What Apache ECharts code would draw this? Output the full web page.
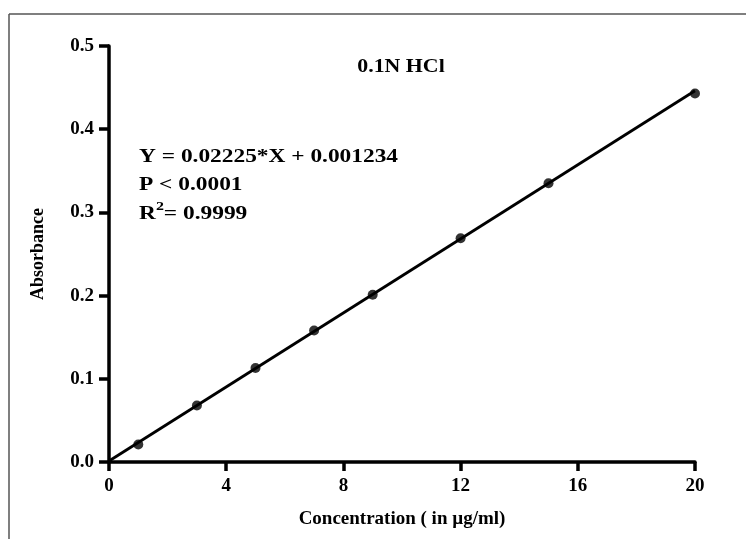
<!DOCTYPE html>
<html>
<head>
<meta charset="utf-8">
<script src="https://cdn.jsdelivr.net/npm/echarts@6/dist/echarts.min.js"></script>
<style>
  html, body { margin: 0; padding: 0; background: #fff; }
  #chart { width: 746px; height: 539px; }
</style>
</head>
<body>
<div id="chart"></div>
<script>
// measured standards
var concentration = [1, 3, 5, 7, 9, 12, 15, 20];
var absorbance = [0.021, 0.068, 0.113, 0.158, 0.201, 0.269, 0.335, 0.443];

// linear fit reported on the figure
var slope = 0.02225;
var intercept = 0.001234;
var fitRange = [0, 20];

var xTicks = [0, 4, 8, 12, 16, 20];
var yTicks = [0.0, 0.1, 0.2, 0.3, 0.4, 0.5];

var serif = '"Liberation Serif", "Times New Roman", serif';

var points = concentration.map(function (c, i) { return [c, absorbance[i]]; });
var fitLine = fitRange.map(function (x) { return [x, slope * x + intercept]; });

var myChart = echarts.init(document.getElementById('chart'));
myChart.setOption({
    backgroundColor: '#fff',
    animation: false,
    grid: { left: 109, right: 51, top: 46, bottom: 77 },
    xAxis: {
        type: 'value',
        min: xTicks[0],
        max: xTicks[xTicks.length - 1],
        interval: 4,
        name: 'Concentration ( in \u00b5g/ml)',
        nameLocation: 'middle',
        nameGap: 48,
        nameTextStyle: { fontFamily: serif, fontWeight: 'bold', fontSize: 19, color: '#000' },
        axisLine: { lineStyle: { color: '#000', width: 3.5 } },
        axisTick: { length: 9, lineStyle: { color: '#000', width: 3.5 } },
        axisLabel: { margin: 15, fontFamily: serif, fontWeight: 'bold', fontSize: 19, color: '#000' },
        splitLine: { show: false }
    },
    yAxis: {
        type: 'value',
        min: yTicks[0],
        max: yTicks[yTicks.length - 1],
        interval: 0.1,
        name: 'Absorbance',
        nameLocation: 'middle',
        nameGap: 62,
        nameTextStyle: { fontFamily: serif, fontWeight: 'bold', fontSize: 18, color: '#000' },
        axisLine: { show: true, lineStyle: { color: '#000', width: 3.5 } },
        axisTick: { show: true, length: 10, lineStyle: { color: '#000', width: 3.5 } },
        axisLabel: {
            margin: 15, fontFamily: serif, fontWeight: 'bold', fontSize: 19, color: '#000',
            formatter: function (v) { return v.toFixed(1); }
        },
        splitLine: { show: false }
    },
    graphic: [
        { type: 'line', shape: { x1: 9, y1: 14, x2: 746, y2: 14 }, style: { stroke: '#555', lineWidth: 1.5 } },
        { type: 'line', shape: { x1: 9, y1: 14, x2: 9, y2: 539 }, style: { stroke: '#555', lineWidth: 1.5 } },
        {
            type: 'text', x: 401, y: 67, scaleX: 1.15,
            style: { text: '0.1N HCl', font: 'bold 19px ' + serif, fill: '#000', align: 'center', verticalAlign: 'middle' }
        },
        {
            type: 'text', x: 139, y: 157, scaleX: 1.23,
            style: { text: 'Y = 0.02225*X + 0.001234', font: 'bold 19px ' + serif, fill: '#000', verticalAlign: 'middle' }
        },
        {
            type: 'text', x: 139, y: 185, scaleX: 1.23,
            style: { text: 'P < 0.0001', font: 'bold 19px ' + serif, fill: '#000', verticalAlign: 'middle' }
        },
        {
            type: 'text', x: 139, y: 212, scaleX: 1.23,
            style: {
                text: '{a|R}{s|2}{a|= 0.9999}',
                verticalAlign: 'middle',
                rich: {
                    a: { font: 'bold 19px ' + serif, fill: '#000', verticalAlign: 'bottom' },
                    s: { font: 'bold 13px ' + serif, fill: '#000', verticalAlign: 'top', padding: [0, 0, 10, 0] }
                }
            }
        }
    ],
    series: [
        {
            type: 'line',
            data: fitLine,
            showSymbol: false,
            symbol: 'none',
            lineStyle: { color: '#000', width: 2.8 },
            z: 2
        },
        {
            type: 'scatter',
            data: points,
            symbol: 'circle',
            symbolSize: 10,
            itemStyle: { color: '#000' },
            z: 3
        }
    ]
}, true);
</script>
</body>
</html>
